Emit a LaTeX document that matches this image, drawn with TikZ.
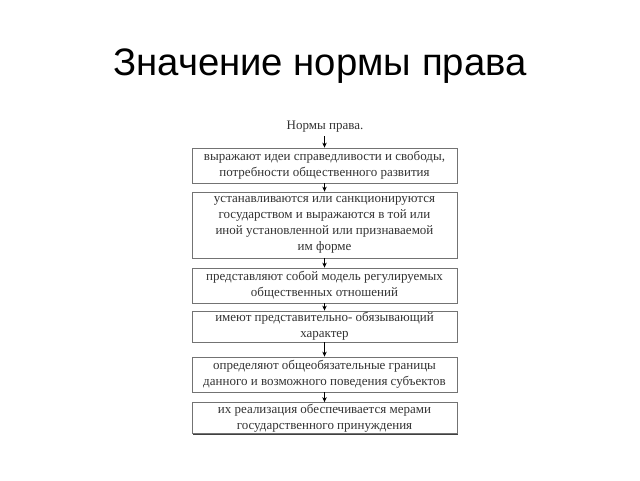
\documentclass[tikz,border=0pt]{standalone}
\usepackage{fontspec}
\setmainfont{Liberation Serif}
\newfontfamily\titlefont{Liberation Sans}
\usetikzlibrary{arrows.meta,shadows}
\begin{document}
\begin{tikzpicture}[x=1pt,y=-1pt,
  stagebox/.style={draw=black!55,line width=0.8pt,fill=white,minimum width=265pt,inner sep=0pt,
    align=center,font=\fontsize{13}{15.8}\selectfont,text=black!80,
    drop shadow={shadow xshift=1.2pt,shadow yshift=-1.2pt,fill=black!75,opacity=1}},
  flow/.style={-{Stealth[length=5pt,width=4.5pt]},line width=0.8pt,black}]
\useasboundingbox (0,0) rectangle (640,480);
\node[font=\titlefont\fontsize{38.3}{38.3}\selectfont,anchor=base] (title) at (320,75) {Значение нормы права};
\node[font=\fontsize{13}{15}\selectfont,text=black!80] (lbl) at (325,127) {Нормы права.};
\node[stagebox,minimum height=35pt] (b1) at (324.5,165.5) {выражают идеи справедливости и свободы,\\ потребности общественного развития};
\node[stagebox,minimum height=66pt] (b2) at (324.5,225) {устанавливаются или санкционируются\\ государством и выражаются в той или\\ иной установленной или признаваемой\\ им форме};
\node[stagebox,minimum height=35pt] (b3) at (324.5,285.5) {представляют собой модель регулируемых\\ общественных отношений};
\node[stagebox,minimum height=31pt] (b4) at (324.5,326.5) {имеют представительно- обязывающий\\ характер};
\node[stagebox,minimum height=35pt] (b5) at (324.5,374.5) {определяют общеобязательные границы\\ данного и возможного поведения субъектов};
\node[stagebox,minimum height=31pt] (b6) at (324.5,418) {их реализация обеспечивается мерами\\ государственного принуждения};
\draw[flow] (lbl.south -| b1.north) -- (b1.north);
\draw[flow] (b1.south) -- (b2.north);
\draw[flow] (b2.south) -- (b3.north);
\draw[flow] (b3.south) -- (b4.north);
\draw[flow] (b4.south) -- (b5.north);
\draw[flow] (b5.south) -- (b6.north);
\end{tikzpicture}
\end{document}
